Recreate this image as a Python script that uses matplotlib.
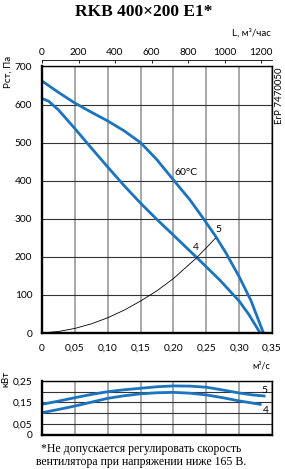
import numpy as np
import matplotlib.pyplot as plt
from matplotlib.ticker import MultipleLocator, FixedLocator

plt.rcParams['font.family'] = ['Lato', 'DejaVu Sans']

# pressure curves, Q in m3/s, P in Pa
q5 = [0, 0.025, 0.05, 0.075, 0.10, 0.125, 0.15, 0.175, 0.20, 0.225, 0.245,
      0.265, 0.28, 0.30, 0.318, 0.337]
p5 = [662, 632, 604, 580, 557, 531, 500, 455, 402, 350, 302,
      252, 210, 148, 85, 0]
q4 = [0, 0.01, 0.025, 0.05, 0.075, 0.10, 0.125, 0.15, 0.175, 0.20, 0.235,
      0.27, 0.30, 0.315, 0.332]
p4 = [616, 609, 586, 537, 486, 436, 387, 341, 298, 257, 199,
      140, 84, 48, 0]
# network curve
q_sys = [0, 0.025, 0.05, 0.075, 0.10, 0.125, 0.15, 0.175, 0.20, 0.235, 0.264]
p_sys = [0, 4, 12, 24, 40, 60, 84, 111, 143, 197, 249]
# power, kW
qn5 = [0, 0.025, 0.05, 0.075, 0.10, 0.125, 0.15, 0.175, 0.20, 0.225, 0.25,
       0.275, 0.30, 0.32, 0.338]
n5 = [0.141, 0.156, 0.172, 0.187, 0.200, 0.209, 0.216, 0.223, 0.227, 0.226, 0.221,
      0.208, 0.194, 0.185, 0.180]
qn4 = [0, 0.025, 0.05, 0.075, 0.10, 0.125, 0.15, 0.175, 0.20, 0.225, 0.25,
       0.275, 0.30, 0.332]
n4 = [0.102, 0.117, 0.133, 0.151, 0.169, 0.181, 0.190, 0.195, 0.197, 0.193, 0.185,
      0.172, 0.157, 0.141]

xticks = [0, 0.05, 0.10, 0.15, 0.20, 0.25, 0.30, 0.35]
xlabels = ['0', '0,05', '0,10', '0,15', '0,20', '0,25', '0,30', '0,35']
top_ticks = [0, 200, 400, 600, 800, 1000, 1200]
n_ticks = [0, 0.05, 0.15, 0.25]
n_labels = ['0', '0,05', '0,15', '0,25']

blue = '#1a74bf'
W, H = 285, 469
fig = plt.figure(figsize=(2.85, 4.69), dpi=100)

def style(ax):
    ax.spines['left'].set_linewidth(1.7)
    ax.spines['bottom'].set_linewidth(1.7)
    ax.spines['top'].set_linewidth(1.0)
    ax.spines['right'].set_linewidth(1.0)
    ax.xaxis.grid(True, which='both', color='#999999', lw=1.2)
    ax.yaxis.grid(True, which='both', color='#333333', lw=0.8)
    ax.set_axisbelow(True)
    ax.tick_params(length=0, labelsize=7.3, pad=7)

# main chart
ax = fig.add_axes([42 / W, 1 - 333 / H, 230 / W, 266.5 / H])
ax.plot(q5, p5, color=blue, lw=2)
ax.plot(q4, p4, color=blue, lw=2)
ax.plot(q_sys, p_sys, color='black', lw=0.6)
ax.set_xlim(0, 0.35)
ax.set_ylim(0, 700)
ax.set_xticks(xticks)
ax.set_xticklabels(xlabels)
ax.yaxis.set_major_locator(MultipleLocator(100))
style(ax)
ax.tick_params(axis='x', pad=8)
ax.text(0.2015, 422, '60°C', fontsize=7.5, ha='left', va='center')
ax.text(0.268, 273, '5', fontsize=7.5, ha='center', va='center')
ax.text(0.234, 225, '4', fontsize=7.5, ha='center', va='center')

top = ax.secondary_xaxis(1.024, functions=(lambda q: q * 3600, lambda l: l / 3600))
top.set_xticks(top_ticks)
top.tick_params(direction='in', length=2.5, width=0.6, labelsize=7.3, pad=2)
top.spines['top'].set_linewidth(0.6)

# power chart
bx = fig.add_axes([42 / W, 1 - 434.5 / H, 230 / W, 53.5 / H])
bx.plot(qn5, n5, color=blue, lw=2)
bx.plot(qn4, n4, color=blue, lw=2)
bx.set_xlim(0, 0.35)
bx.set_ylim(0, 0.25)
bx.xaxis.set_major_locator(MultipleLocator(0.05))
bx.set_xticklabels([])
bx.yaxis.set_major_locator(FixedLocator(n_ticks))
bx.yaxis.set_minor_locator(FixedLocator([0.10, 0.20]))
bx.set_yticklabels(n_labels)
style(bx)
bx.tick_params(which='minor', length=0)
bx.text(0.339, 0.205, '5', fontsize=7.5, ha='center', va='center')
bx.text(0.340, 0.112, '4', fontsize=7.5, ha='center', va='center')

# texts
fig.text(144 / W, 1 - 12 / H, 'RKB 400×200 E1*', family='Liberation Serif',
         fontweight='bold', fontsize=12.5, ha='center', va='center')
fig.text(271 / W, 1 - 33 / H, 'L, м³/час', fontsize=7, ha='right', va='center')
fig.text(8 / W, 1 - 72 / H, 'Рст, Па', fontsize=7, rotation=90, ha='center', va='center')
fig.text(279 / W, 1 - 96 / H, 'ErP 7470050', fontsize=7, rotation=90, ha='center', va='center')
fig.text(270 / W, 1 - 366 / H, 'м³/с', fontsize=6.5, ha='right', va='center')
fig.text(6 / W, 1 - 379 / H, 'кВт', fontsize=7, rotation=90, ha='center', va='center')
fig.text(141 / W, 1 - 449 / H, '*Не допускается регулировать скорость',
         family='Liberation Serif', fontsize=8.5, ha='center', va='center')
fig.text(141 / W, 1 - 462 / H, 'вентилятора при напряжении ниже 165 В.',
         family='Liberation Serif', fontsize=8.5, ha='center', va='center')

fig.savefig('out.png', dpi=100)
